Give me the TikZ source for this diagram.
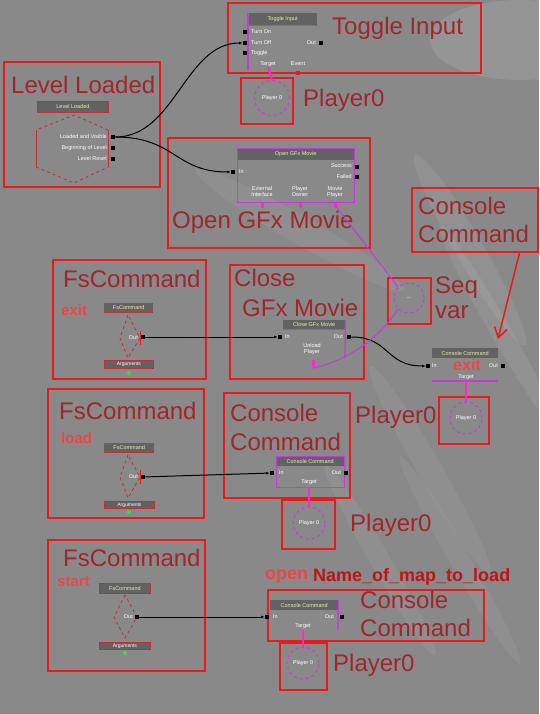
\documentclass[tikz,border=0pt]{standalone}
\usepackage{fontspec}
\setmainfont{Liberation Sans}
\usetikzlibrary{arrows.meta}
\definecolor{bg}{RGB}{137,137,137}
\definecolor{boxred}{RGB}{235,25,25}
\definecolor{lblred}{RGB}{160,38,45}
\definecolor{brightred}{RGB}{238,70,70}
\definecolor{darkbold}{RGB}{190,20,25}
\definecolor{kgray}{RGB}{98,98,98}
\definecolor{kyellow}{RGB}{235,235,170}
\definecolor{mag}{RGB}{195,60,215}
\definecolor{pinkstub}{RGB}{255,40,200}
\definecolor{hexred}{RGB}{190,50,55}
\definecolor{greendot}{RGB}{40,230,60}
\begin{document}
\begin{tikzpicture}[x=1pt,y=-1pt,
 rbox/.style={draw=boxred,line width=2pt,inner sep=0pt,anchor=north west},
 lbl/.style={text=lblred,font=\fontsize{24}{24}\selectfont,inner sep=0pt,anchor=west},
 tinyt/.style={text=white,font=\fontsize{5.5}{6}\selectfont,inner sep=0pt},
 khead/.style={fill=kgray,text=kyellow,font=\fontsize{5.5}{6}\selectfont,inner sep=0pt,anchor=north west},
 port/.style={fill=black,minimum size=4.5pt,inner sep=0pt},
 pvar/.style={circle,draw=mag,dashed,line width=0.9pt,minimum size=33pt,inner sep=0pt,text=white,font=\fontsize{5.5}{6}\selectfont},
 wire/.style={black,line width=1pt,-{Latex[length=3.5pt,width=3pt]}},
 magline/.style={mag,line width=1pt},
 stub/.style={pinkstub,line width=2pt},
 cmdword/.style={text=brightred,font=\bfseries\fontsize{15}{15}\selectfont,inner sep=0pt,anchor=west},
 argbar/.style={fill=kgray,draw=hexred,line width=0.8pt,text=white,font=\fontsize{5}{5}\selectfont,inner sep=0pt,anchor=north west},
 gdot/.style={circle,fill=greendot,minimum size=4pt,inner sep=0pt}
]
\useasboundingbox (0,0) rectangle (539,714);
\fill[bg] (0,0) rectangle (539,714);
% light streaks of the background
\begin{scope}[white]
\fill[opacity=0.10] (520,40) ellipse [x radius=90pt, y radius=40pt];
\fill[opacity=0.07,rotate around={-60:(470,250)}] (470,250) ellipse [x radius=110pt, y radius=14pt];
\fill[opacity=0.07,rotate around={-60:(500,330)}] (500,330) ellipse [x radius=120pt, y radius=10pt];
\fill[opacity=0.06,rotate around={-60:(430,470)}] (430,470) ellipse [x radius=120pt, y radius=12pt];
\fill[opacity=0.06,rotate around={-60:(380,560)}] (380,560) ellipse [x radius=110pt, y radius=10pt];
\fill[opacity=0.05,rotate around={-60:(460,560)}] (460,560) ellipse [x radius=120pt, y radius=10pt];
\fill[opacity=0.05,rotate around={-30:(300,230)}] (300,230) ellipse [x radius=120pt, y radius=14pt];
\end{scope}

% ---------------- Level Loaded
\node[rbox,minimum width=156pt,minimum height=125pt] (llbox) at (3,61) {};
\node[lbl] (lltitle) at (11,85) {Level Loaded};
\node[khead,minimum width=71pt,minimum height=11pt,draw=hexred,line width=0.8pt] (llhead) at (37,101) {Level Loaded};
\draw[hexred,dashed,line width=0.8pt] (108,130) -- (74,115) -- (36,130);
\draw[hexred,line width=0.8pt] (36,130) -- (36,167);
\draw[hexred,dashed,line width=0.8pt] (36,167) -- (74,183) -- (108,167);
\draw[hexred,line width=0.8pt] (108,167) -- (108,130);
\node[tinyt,anchor=east] (ll1) at (107,137) {Loaded and Visible};
\node[tinyt,anchor=east] (ll2) at (107,148) {Beginning of Level};
\node[tinyt,anchor=east] (ll3) at (107,159) {Level Reset};
\node[port] (llo1) at (113,137) {};
\node[port] (llo2) at (113,148) {};
\node[port] (llo3) at (113,159) {};

% ---------------- Toggle Input
\node[rbox,minimum width=253pt,minimum height=70pt] (tibox) at (227,2) {};
\node[lbl] (tititle) at (332,28) {Toggle Input};
\node[khead,minimum width=69pt,minimum height=12pt] (tihead) at (248,13) {Toggle Input};
\draw[mag,line width=1.2pt] (tihead.south west) -- (tihead.south east);
\draw[mag,line width=1.2pt] (tihead.north west) -- (248,70);
\node[port] (tii1) at (245,32) {};
\node[port] (tii2) at (245,43) {};
\node[port] (tii3) at (245,53) {};
\node[tinyt,anchor=west] (til1) at (251,32) {Turn On};
\node[tinyt,anchor=west] (til2) at (251,43) {Turn Off};
\node[tinyt,anchor=west] (til3) at (251,53) {Toggle};
\node[tinyt,anchor=east] (tiol) at (316,43) {Out};
\node[port] (tio) at (321,43) {};
\node[tinyt] (titgt) at (268,64) {Target};
\node[tinyt] (tievt) at (298,64) {Event};
\node[fill=boxred,minimum size=3.5pt,inner sep=0pt] (tiev) at (298,73) {};
\node[rbox,minimum width=52pt,minimum height=46pt] (tipbox) at (240,77) {};
\node[pvar,minimum size=35pt] (tipl) at (272,98) {Player 0};
\node[lbl] (tiplbl) at (303,100) {Player0};
\draw[stub] (titgt.south) -- (tipl.north);

% ---------------- Open GFx Movie
\node[rbox,minimum width=202pt,minimum height=110pt] (ogbox) at (167,137) {};
\node[lbl] (ogtitle) at (172,222) {Open GFx Movie};
\node[draw=mag,line width=1pt,minimum width=117pt,minimum height=54pt,inner sep=0pt,anchor=north west] (ogbody) at (237,148) {};
\node[khead,minimum width=116pt,minimum height=11pt] (oghead) at (237.5,148.5) {Open GFx Movie};
\node[port] (ogin) at (233,172) {};
\node[tinyt,anchor=west] (oginl) at (239,172) {In};
\node[tinyt,anchor=east] (ogsl) at (352,166) {Success};
\node[tinyt,anchor=east] (ogfl) at (352,177) {Failed};
\node[port] (ogs) at (357,167) {};
\node[port] (ogf) at (357,177) {};
\node[tinyt,align=center] (ogext) at (262,192) {External\\Interface};
\node[tinyt,align=center] (ogown) at (300,192) {Player\\Owner};
\node[tinyt,align=center] (ogmov) at (335,192) {Movie\\Player};
\node[fill=pinkstub,minimum width=3pt,minimum height=5pt,inner sep=0pt] (ogs1) at (262,205) {};
\node[fill=pinkstub,minimum width=3pt,minimum height=5pt,inner sep=0pt] (ogs2) at (300,205) {};
\node[fill=pinkstub,minimum width=3pt,minimum height=5pt,inner sep=0pt] (ogs3) at (335,205) {};

% ---------------- Seq var
\node[rbox,minimum width=43pt,minimum height=46pt] (sqbox) at (387,277) {};
\node[pvar,minimum size=30pt] (sq) at (409,298) {...};
\node[lbl] (sqlbl1) at (435,288) {Seq};
\node[lbl] (sqlbl2) at (435,312) {var};

% ---------------- Console Command (label, top right)
\node[rbox,minimum width=126pt,minimum height=64pt] (cc1box) at (411,187) {};
\node[lbl] (cc1t1) at (418,206) {Console};
\node[lbl] (cc1t2) at (418,234) {Command};
\coordinate (arrs) at (520,251);
\coordinate (arre) at (498,339);
\draw[boxred,line width=1.5pt,-{Straight Barb[length=10pt,width=13pt]}] (arrs) -- (arre);

% ---------------- FsCommand exit
\node[rbox,minimum width=153pt,minimum height=119pt] (fs1box) at (52,259) {};
\node[lbl] (fs1title) at (63,279) {FsCommand};
\node[cmdword] (fs1word) at (61,310) {exit};
\node[khead,minimum width=49pt,minimum height=9pt] (fs1head) at (104,303) {FsCommand};
\draw[hexred,line width=0.8pt] (fs1head.south west) -- (fs1head.south east);
\draw[hexred,dashed,line width=0.8pt] (128,315) -- (120,338) -- (128,358) -- (140,338) -- cycle;
\draw[boxred,line width=1pt] (140,331) -- (140,345);
\node[tinyt,anchor=east] (fs1ol) at (138,338) {Out};
\node[port] (fs1o) at (143,337) {};
\node[argbar,minimum width=49pt,minimum height=8pt] (fs1arg) at (104,360) {Arguments};
\node[gdot] (fs1g) at (129,373) {};

% ---------------- Close GFx Movie
\node[rbox,minimum width=134pt,minimum height=114pt] (clbox) at (229,264) {};
\node[lbl] (clt1) at (234,278) {Close};
\node[lbl] (clt2) at (242,308) {GFx Movie};
\node[khead,minimum width=62pt,minimum height=9pt] (clhead) at (283,320) {Close GFx Movie};
\draw[mag,line width=1.2pt] (clhead.south west) -- (clhead.south east);
\draw[mag,line width=1.2pt] (clhead.north east) -- (345,358);
\node[port] (clin) at (280,337) {};
\node[tinyt,anchor=west] (clinl) at (285,337) {In};
\node[tinyt,anchor=east] (clol) at (343,337) {Out};
\node[port] (clout) at (349,337) {};
\node[tinyt,align=center] (clunl) at (312,349) {Unload\\Player};
\node[fill=pinkstub,minimum width=3pt,minimum height=8pt,inner sep=0pt] (clstub) at (313,364) {};

% ---------------- Console Command exit node
\node[khead,minimum width=66pt,minimum height=10pt] (cchead) at (432,348) {Console Command};
\node[port] (ccin) at (428,366) {};
\node[tinyt,anchor=west] (ccinl) at (432,366) {In};
\node[tinyt,anchor=east] (ccol) at (498,366) {Out};
\node[port] (ccout) at (503,366) {};
\draw[mag,line width=1.2pt] (432,381) -- (498,381);
\node[tinyt] (cctgt) at (466,377) {Target};
\node[text=brightred,font=\bfseries\fontsize{16}{16}\selectfont,inner sep=0pt] (ccword) at (467,365) {exit};
\node[rbox,minimum width=50pt,minimum height=47pt] (ccpbox) at (438,396) {};
\node[pvar,minimum size=32pt] (ccpl) at (466,418) {Player 0};
\node[lbl] (ccplbl) at (355,417) {Player0};
\draw[stub] (466,382) -- (ccpl.north);

% ---------------- FsCommand load
\node[rbox,minimum width=156pt,minimum height=129pt] (fs2box) at (47,388) {};
\node[lbl] (fs2title) at (59,411) {FsCommand};
\node[cmdword] (fs2word) at (61,438) {load};
\node[khead,minimum width=50pt,minimum height=9pt] (fs2head) at (104,443) {FsCommand};
\draw[hexred,line width=0.8pt] (fs2head.south west) -- (fs2head.south east);
\draw[hexred,dashed,line width=0.8pt] (128,455) -- (120,477) -- (128,498) -- (140,477) -- cycle;
\draw[boxred,line width=1pt] (140,470) -- (140,484);
\node[tinyt,anchor=east] (fs2ol) at (138,477) {Out};
\node[port] (fs2o) at (143,477) {};
\node[argbar,minimum width=50pt,minimum height=7pt] (fs2arg) at (104,501) {Arguments};
\node[gdot] (fs2g) at (129,512) {};

% ---------------- Console Command load
\node[rbox,minimum width=126pt,minimum height=105pt] (cc2box) at (223,392) {};
\node[lbl] (cc2t1) at (230,413) {Console};
\node[lbl] (cc2t2) at (230,442) {Command};
\node[draw=mag,line width=1pt,minimum width=68pt,minimum height=31pt,inner sep=0pt,anchor=north west] (cc2body) at (276,456) {};
\node[khead,minimum width=67pt,minimum height=9pt] (cc2head) at (276.5,456.5) {Console Command};
\node[port] (cc2in) at (272,473) {};
\node[tinyt,anchor=west] (cc2inl) at (279,473) {In};
\node[tinyt,anchor=east] (cc2ol) at (341,473) {Out};
\node[port] (cc2out) at (346,473) {};
\node[tinyt] (cc2tgt) at (309,482) {Target};
\node[rbox,minimum width=53pt,minimum height=49pt] (cc2pbox) at (281,499) {};
\node[pvar,minimum size=32pt] (cc2pl) at (309,523) {Player 0};
\node[lbl] (cc2plbl) at (350,525) {Player0};
\draw[stub] (309,488) -- (cc2pl.north);

% ---------------- FsCommand start
\node[rbox,minimum width=157pt,minimum height=131pt] (fs3box) at (47,539) {};
\node[lbl] (fs3title) at (63,558) {FsCommand};
\node[cmdword] (fs3word) at (57,582) {start};
\node[khead,minimum width=51pt,minimum height=10pt,draw=hexred,line width=0.8pt] (fs3head) at (99,583) {FsCommand};
\draw[hexred,dashed,line width=0.8pt] (125,595) -- (114,617) -- (125,638) -- (137,617) -- cycle;
\node[tinyt,anchor=east] (fs3ol) at (133,617) {Out};
\node[port] (fs3o) at (137,617) {};
\node[argbar,minimum width=51pt,minimum height=7pt] (fs3arg) at (99,642) {Arguments};
\node[gdot] (fs3g) at (125,653) {};

% ---------------- Console Command start
\node[text=brightred,font=\bfseries\fontsize{18}{18}\selectfont,inner sep=0pt,anchor=west] (openw) at (265,577) {open};
\node[text=darkbold,font=\bfseries\fontsize{18}{18}\selectfont,inner sep=0pt,anchor=west] (mapw) at (313,577) {Name\_of\_map\_to\_load};
\node[rbox,minimum width=216pt,minimum height=51pt] (cc3box) at (267,589) {};
\node[lbl] (cc3t1) at (360,600) {Console};
\node[lbl] (cc3t2) at (360,628) {Command};
\node[khead,minimum width=68pt,minimum height=10pt] (cc3head) at (270,600) {Console Command};
\draw[mag,line width=1.2pt] (cc3head.north east) -- (338,630);
\node[port] (cc3in) at (267,617) {};
\node[tinyt,anchor=west] (cc3inl) at (273,617) {In};
\node[tinyt,anchor=east] (cc3ol) at (334,617) {Out};
\node[port] (cc3out) at (342,617) {};
\node[tinyt] (cc3tgt) at (303,626) {Target};
\node[rbox,minimum width=47pt,minimum height=47pt] (cc3pbox) at (279,642) {};
\node[pvar,minimum size=32pt] (cc3pl) at (303,663) {Player 0};
\node[lbl] (cc3plbl) at (333,665) {Player0};
\draw[stub] (303,630) -- (cc3pl.north);

% ---------------- wires
\draw[wire] (llo1) .. controls (175,137) and (185,43) .. (tii2);
\draw[wire] (llo1) .. controls (175,137) and (175,172) .. (ogin);
\draw[wire] (fs1o) -- (clin);
\draw[wire] (clout) .. controls (390,337) and (385,366) .. (ccin);
\draw[wire] (fs2o) -- (cc2in);
\draw[wire] (fs3o) -- (cc3in);
\draw[magline] (ogs3) -- (sq.135);
\draw[magline] (clstub.south) .. controls (340,362) and (375,345) .. (sq.225);
\end{tikzpicture}
\end{document}
